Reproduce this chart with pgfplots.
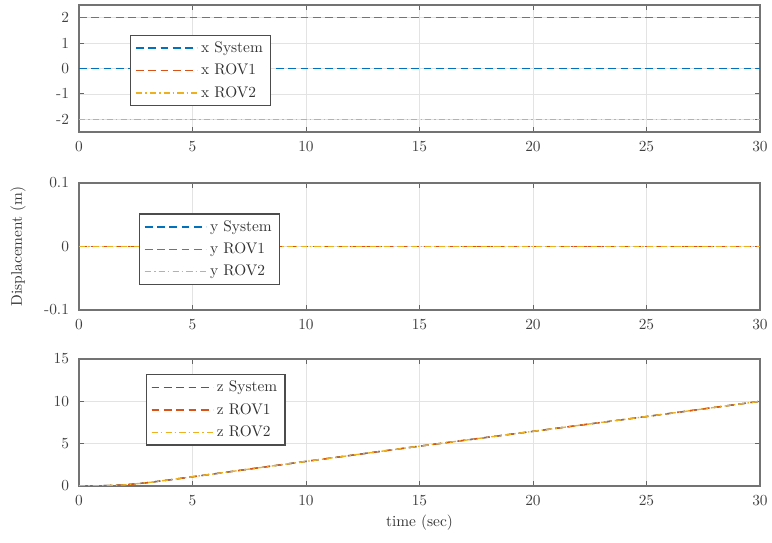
\documentclass[border=0pt]{standalone}
\usepackage{pgfplots}
\pgfplotsset{compat=1.18}
\definecolor{mblue}{rgb}{0,0.447,0.741}
\definecolor{morange}{rgb}{0.85,0.325,0.098}
\definecolor{myellow}{rgb}{0.929,0.694,0.125}
\pgfplotsset{
  myax/.style={
    scale only axis, width=442.65pt, height=82.5pt,
    xmin=0, xmax=30, xtick={0,5,...,30},
    grid=major, major grid style={gray!22, line width=0.4pt},
    axis line style={black!55, line width=0.9pt},
    tick style={black!60, line width=0.6pt},
    tick align=inside, major tick length=3.5pt,
    xticklabel style={yshift=-3pt, text=black!75},
    yticklabel style={xshift=-3pt, text=black!75},
    legend style={draw=black!70, line width=0.8pt, fill=white, text=black!80,
      row sep=2pt, inner xsep=3pt, inner ysep=2pt},
    legend cell align=left,
    legend image code/.code={\path (0pt,0pt) -- (40pt,0pt);\draw[##1] (0pt,0pt) -- (36pt,0pt);},
    every axis plot/.append style={line width=0.9pt},
  },
  sys/.style={color=mblue, dash pattern=on 5pt off 3pt},
  rov1/.style={color=morange, dash pattern=on 5pt off 3pt},
  rov2/.style={color=myellow, dash pattern=on 4pt off 2pt on 1pt off 2pt},
}
\begin{document}
\begin{tikzpicture}
\useasboundingbox (-51.35pt,3.25pt) rectangle (450.45pt,-349.7pt);
% top axis: x
\begin{axis}[myax, at={(0pt,0pt)}, anchor=north west,
  ymin=-2.5, ymax=2.5, ytick={-2,-1,0,1,2}, yticklabels={-2,-1,0,1,2},
  legend style={at={(axis description cs:0.0749,0.766)}, anchor=north west}]
\addplot[sys] coordinates {(0,0) (30,0)};
\addlegendentry{x System}
\addplot[rov1] coordinates {(0,2) (30,2)};
\addlegendentry{x ROV1}
\addplot[rov2] coordinates {(0,-2) (30,-2)};
\addlegendentry{x ROV2}
\end{axis}
% middle axis: y
\begin{axis}[myax, at={(0pt,-115.7pt)}, anchor=north west,
  ymin=-0.1, ymax=0.1, ytick={-0.1,0,0.1}, yticklabels={-0.1,0,0.1},
  ylabel={Displacement (m)},
  ylabel style={at={(axis description cs:-0.0896,0.5)}, anchor=center, text=black!80},
  legend style={at={(axis description cs:0.088,0.76)}, anchor=north west}]
\addplot[sys] coordinates {(0,0) (30,0)};
\addlegendentry{y System}
\addplot[rov1] coordinates {(0,0) (30,0)};
\addlegendentry{y ROV1}
\addplot[rov2] coordinates {(0,0) (30,0)};
\addlegendentry{y ROV2}
\end{axis}
% bottom axis: z
\begin{axis}[myax, at={(0pt,-230.1pt)}, anchor=north west,
  ymin=0, ymax=15, ytick={0,5,10,15}, yticklabels={0,5,10,15},
  xlabel={time (sec)},
  xlabel style={at={(axis description cs:0.5,-0.29)}, anchor=center, text=black!80},
  legend style={at={(axis description cs:0.098,0.881)}, anchor=north west}]
\addplot[sys] coordinates {(0,0) (1,0.02) (2,0.12) (3,0.38) (4,0.72) (5,1.08) (10,2.9) (15,4.7) (20,6.45) (25,8.2) (30,10)};
\addlegendentry{z System}
\addplot[rov1] coordinates {(0,0) (1,0.02) (2,0.12) (3,0.38) (4,0.72) (5,1.08) (10,2.9) (15,4.7) (20,6.45) (25,8.2) (30,10)};
\addlegendentry{z ROV1}
\addplot[rov2] coordinates {(0,0) (1,0.02) (2,0.12) (3,0.38) (4,0.72) (5,1.08) (10,2.9) (15,4.7) (20,6.45) (25,8.2) (30,10)};
\addlegendentry{z ROV2}
\end{axis}
\end{tikzpicture}
\end{document}
